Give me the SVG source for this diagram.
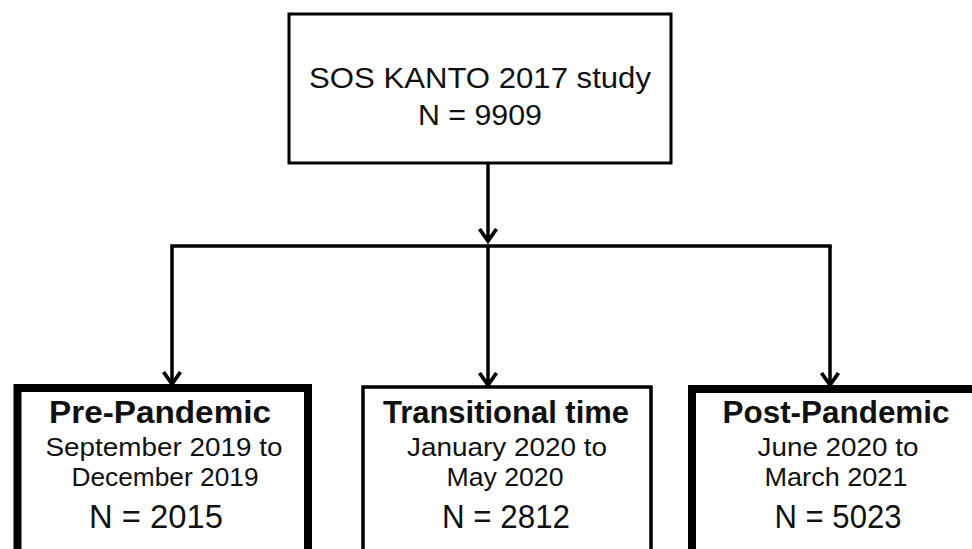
<svg xmlns="http://www.w3.org/2000/svg" width="972" height="549" viewBox="0 0 972 549">
<style>
  .box { fill: #ffffff; stroke: #000000; }
  .thin { stroke-width: 3; }
  .thick { stroke-width: 8; }
  .conn { stroke: #000000; stroke-width: 3.5; fill: none; }
  text { font-family: "Liberation Sans", Arial, sans-serif; fill: #111111; text-anchor: middle; }
  .t28 { font-size: 29px; }
  .title { font-size: 31px; font-weight: bold; }
  .sub { font-size: 26px; }
  .n { font-size: 33px; }
</style>
<defs>
  <marker id="arr" markerUnits="userSpaceOnUse" markerWidth="24" markerHeight="24" viewBox="0 0 24 24" refX="18" refY="12" orient="auto">
    <path d="M5,3.5 L17,12 L5,20.5" fill="none" stroke="#000000" stroke-width="3.8" stroke-linejoin="miter"/>
  </marker>
</defs>
<rect x="0" y="0" width="972" height="549" fill="#ffffff"/>
<g id="connectors">
  <line class="conn" x1="488" y1="163" x2="488" y2="242" marker-end="url(#arr)"/>
  <path class="conn" d="M172,246 H830" stroke-linecap="square"/>
  <line class="conn" x1="172" y1="246" x2="172" y2="385" marker-end="url(#arr)"/>
  <line class="conn" x1="488" y1="246" x2="488" y2="386" marker-end="url(#arr)"/>
  <line class="conn" x1="830" y1="246" x2="830" y2="386" marker-end="url(#arr)"/>
</g>
<g id="node-sos">
  <rect class="box thin" x="289" y="14" width="382" height="149"/>
  <text class="t28" x="480" y="88" textLength="342" lengthAdjust="spacingAndGlyphs">SOS KANTO 2017 study</text>
  <text class="t28" x="480" y="125" textLength="124" lengthAdjust="spacingAndGlyphs">N = 9909</text>
</g>
<g id="node-pre">
  <rect class="box thick" x="17.5" y="388" width="290.5" height="200"/>
  <text class="title" x="160" y="423" textLength="222" lengthAdjust="spacingAndGlyphs">Pre-Pandemic</text>
  <text class="sub" x="164" y="456" textLength="237" lengthAdjust="spacingAndGlyphs">September 2019 to</text>
  <text class="sub" x="165" y="486" textLength="187" lengthAdjust="spacingAndGlyphs">December 2019</text>
  <text class="n" x="156" y="528" textLength="134" lengthAdjust="spacingAndGlyphs">N = 2015</text>
</g>
<g id="node-transitional">
  <rect class="box" style="stroke-width:3.5" x="363" y="387" width="288" height="200"/>
  <text class="title" x="506" y="423" textLength="246" lengthAdjust="spacingAndGlyphs">Transitional time</text>
  <text class="sub" x="507" y="456" textLength="200" lengthAdjust="spacingAndGlyphs">January 2020 to</text>
  <text class="sub" x="505" y="486" textLength="117" lengthAdjust="spacingAndGlyphs">May 2020</text>
  <text class="n" x="506" y="528" textLength="128" lengthAdjust="spacingAndGlyphs">N = 2812</text>
</g>
<g id="node-post">
  <rect class="box thick" x="692" y="389" width="300" height="200"/>
  <text class="title" x="836" y="423" textLength="227" lengthAdjust="spacingAndGlyphs">Post-Pandemic</text>
  <text class="sub" x="838" y="456" textLength="161" lengthAdjust="spacingAndGlyphs">June 2020 to</text>
  <text class="sub" x="836" y="486" textLength="143" lengthAdjust="spacingAndGlyphs">March 2021</text>
  <text class="n" x="838" y="528" textLength="127" lengthAdjust="spacingAndGlyphs">N = 5023</text>
</g>
</svg>
